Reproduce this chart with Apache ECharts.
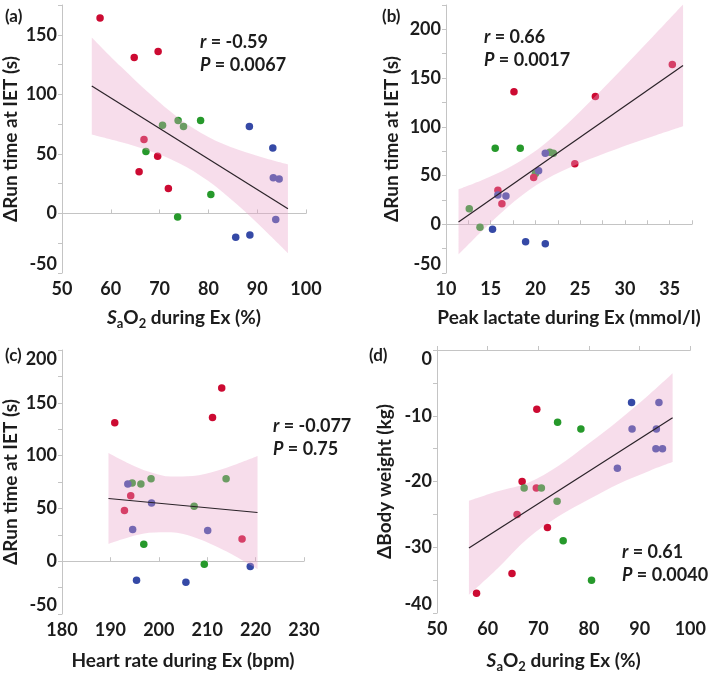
<!DOCTYPE html>
<html lang="en">
<head>
    <meta charset="UTF-8">
    <title>Run time vs SaO2, lactate, heart rate</title>
    <script src="https://cdn.jsdelivr.net/npm/echarts@6.0.0/dist/echarts.min.js"></script>
    <style>
        html, body { margin: 0; padding: 0; background: #fff; }
        #chart1 { width: 709px; height: 674px; }
    </style>
</head>
<body>
<div id="chart1"></div>
<script>
    // one entry per subject: 0 = red, 1 = green, 2 = blue
    var group = [0, 0, 0, 0, 1, 0, 0, 0, 1, 1, 1, 1, 1, 1, 2, 2, 2, 2, 2, 2, 2];
    var sao2 = [57.8, 64.8, 69.7, 66.8, 67.2, 69.6, 65.8, 71.8, 70.6, 73.8, 74.9, 78.4, 80.5, 73.7, 88.4, 93.2, 93.3, 94.5, 93.8, 85.6, 88.5];
    var runTime = [164, 131, 136, 62, 52, 48, 35, 21, 74, 78, 73, 78, 16, -3, 73, 55, 30, 29, -5, -20, -18];
    var lactate = [35.3, 26.7, 17.6, 24.4, 20.0, 19.8, 15.8, 16.25, 21.6, 15.5, 22.0, 18.3, 12.6, 13.8, 21.1, 20.35, 15.8, 16.7, 15.2, 21.1, 18.9];
    var heartRate = [213.0, 190.9, 211.1, 194.2, 207.3, 192.9, null, 217.2, 194.5, 198.4, 196.3, 213.9, 196.9, 209.4, 193.6, 198.5, 194.6, 210.1, 218.9, 205.6, 195.4];
    var bodyWeight = [-37, -34, -9, -20, -21, -21, -25, -27, -21, -11, -29, -12, -35, -23, -8, -15, -12, -15, -8, -18, -12];

    // fitted line ends and 95% band
    var fitA = {x: [56.1, 96.3], y: [107, 4]};
    var bandA = {x: [56.1, 62, 68, 74, 80, 86, 92, 96.3],
        upper: [147.8, 123.5, 100.4, 79.8, 64.2, 53.6, 46.0, 41.3],
        lower: [66.2, 59.9, 52.4, 42.2, 27.2, 7.0, -16.0, -33.3]};
    var fitB = {x: [11.4, 36.5], y: [2.4, 163]};
    var bandB = {x: [11.4, 14, 17, 19.5, 22, 25, 29, 33, 36.5],
        upper: [35.9, 45.2, 58.0, 72.0, 90.1, 115.8, 152.9, 191.4, 225.5],
        lower: [-31.1, -7.2, 18.4, 36.4, 50.3, 63.0, 77.1, 89.8, 100.5]};
    var fitC = {x: [189.6, 220.4], y: [59.4, 46.1]};
    var bandC = {x: [189.6, 194, 198, 202.6, 207, 212, 216, 220.4],
        upper: [102.4, 92.1, 84.7, 80.1, 80.6, 85.7, 91.8, 99.6],
        lower: [16.4, 22.9, 26.9, 27.5, 23.2, 13.7, 4.2, -7.4]};
    var fitD = {x: [56.3, 96.5], y: [-30.1, -10.3]};
    var bandD = {x: [56.3, 62, 68, 74, 80, 86, 92, 96.5],
        upper: [-22.95, -21.5, -20.2, -17.6, -14.2, -10.6, -6.7, -3.55],
        lower: [-37.25, -33.2, -28.6, -25.3, -22.7, -20.3, -18.35, -17.05]};

    var statText = [
        ['-0.59', '0.0067'],
        ['0.66', '0.0017'],
        ['-0.077', '0.75'],
        ['0.61', '0.0040']
    ];

    var groupColors = ['#cc0a32', '#26992b', '#3549a6'];
    var font = 'Lato, "Open Sans", sans-serif';
    var textColor = '#1c1c1c';
    var axisColor = '#c4c4c4';

    var saName = '{it|S}{sub|a}O{sub|2} during Ex (%)';
    var nameRich = {
        it: {fontStyle: 'italic', fontWeight: 'bold', fontSize: 19, fontFamily: font, color: textColor},
        sub: {fontWeight: 'bold', fontSize: 13, fontFamily: font, color: textColor, verticalAlign: 'bottom', lineHeight: 13}
    };

    function everyFormatter(step) {
        return function (v) {
            var k = v / step;
            return Math.abs(k - Math.round(k)) < 1e-6 ? String(v) : '';
        };
    }

    function xAx(gi, min, max, interval, step, name, gap) {
        return {
            type: 'value', gridIndex: gi, min: min, max: max, interval: interval,
            name: name, nameLocation: 'middle', nameGap: gap,
            nameTextStyle: {fontSize: 19, fontWeight: 'bold', fontFamily: font, color: textColor, lineHeight: 24, rich: nameRich},
            axisLine: {show: true, lineStyle: {color: axisColor, width: 1}},
            axisTick: {show: true, inside: true, length: 4, lineStyle: {color: axisColor}},
            splitLine: {show: false},
            axisLabel: {fontSize: 18, fontWeight: 'bold', fontFamily: font, color: textColor, margin: 7,
                formatter: everyFormatter(step), hideOverlap: false}
        };
    }

    function yAx(gi, min, max, interval, step, name, gap) {
        return {
            type: 'value', gridIndex: gi, min: min, max: max, interval: interval,
            name: name, nameLocation: 'middle', nameGap: gap,
            nameTextStyle: {fontSize: 19, fontWeight: 'bold', fontFamily: font, color: textColor},
            axisLine: {show: true, lineStyle: {color: axisColor, width: 1}},
            axisTick: {show: true, length: 4, lineStyle: {color: axisColor}},
            splitLine: {show: false},
            axisLabel: {fontSize: 18, fontWeight: 'bold', fontFamily: font, color: textColor, margin: 5,
                formatter: everyFormatter(step), hideOverlap: false,
                verticalAlignMaxLabel: 'top', verticalAlignMinLabel: 'bottom'}
        };
    }

    function points(xs, ys) {
        var out = [];
        for (var i = 0; i < xs.length; i++) {
            if (xs[i] == null || ys[i] == null) continue;
            out.push([xs[i], ys[i], group[i]]);
        }
        return out;
    }

    function scatterSeries(gi, xs, ys) {
        return {
            type: 'scatter', xAxisIndex: gi, yAxisIndex: gi, z: 2,
            symbolSize: 7.5,
            data: points(xs, ys),
            itemStyle: {color: function (p) { return groupColors[p.value[2]]; }, opacity: 1}
        };
    }

    // band = lower edge (hidden) + stacked height; y is put first so the stack runs along y
    function bandSeries(gi, band) {
        var low = [], diff = [];
        for (var i = 0; i < band.x.length; i++) {
            low.push([band.lower[i], band.x[i]]);
            diff.push([band.upper[i] - band.lower[i], band.x[i]]);
        }
        var base = {type: 'line', xAxisIndex: gi, yAxisIndex: gi, stack: 'band' + gi, stackStrategy: 'all',
            smooth: 0.35, encode: {x: 1, y: 0}, symbol: 'none', silent: true, z: 3};
        return [
            Object.assign({}, base, {data: low, lineStyle: {opacity: 0}}),
            Object.assign({}, base, {data: diff, lineStyle: {opacity: 0},
                areaStyle: {color: 'rgba(232,160,200,0.36)', opacity: 1}})
        ];
    }

    function fitSeries(gi, fit) {
        return {
            type: 'line', xAxisIndex: gi, yAxisIndex: gi, z: 4, symbol: 'none', silent: true,
            data: [[fit.x[0], fit.y[0]], [fit.x[1], fit.y[1]]],
            lineStyle: {color: '#2a2228', width: 1.2}
        };
    }

    function statGraphic(x, y, idx) {
        var rich = {i: {fontStyle: 'italic', fontWeight: 'bold', fontSize: 18, fontFamily: font, fill: textColor}};
        var st = {fontSize: 18, fontWeight: 'bold', fontFamily: font, fill: textColor, verticalAlign: 'middle', rich: rich};
        return [
            {type: 'text', x: x, y: y, style: Object.assign({text: '{i|r} = ' + statText[idx][0]}, st)},
            {type: 'text', x: x, y: y + 23, style: Object.assign({text: '{i|P} = ' + statText[idx][1]}, st)}
        ];
    }

    function panelLabel(x, y, t) {
        return {type: 'text', x: x, y: y, style: {text: t, fontSize: 17, fontWeight: 'bold', fontFamily: font,
            fill: textColor, verticalAlign: 'middle'}};
    }

    var series = [].concat(
        scatterSeries(0, sao2, runTime), bandSeries(0, bandA), fitSeries(0, fitA),
        scatterSeries(1, lactate, runTime), bandSeries(1, bandB), fitSeries(1, fitB),
        scatterSeries(2, heartRate, runTime), bandSeries(2, bandC), fitSeries(2, fitC),
        scatterSeries(3, sao2, bodyWeight), bandSeries(3, bandD), fitSeries(3, fitD)
    );

    var option = {
        animation: false,
        backgroundColor: '#fff',
        grid: [
            {left: 61, top: 5, width: 245, height: 268},
            {left: 446, top: 5, width: 246, height: 268},
            {left: 61, top: 350, width: 243, height: 268},
            {left: 437, top: 350, width: 254, height: 267}
        ],
        xAxis: [
            xAx(0, 50, 100, 10, 10, saName, 33),
            xAx(1, 10, 37.5, 2.5, 5, 'Peak lactate during Ex (mmol/l)', 33),
            xAx(2, 180, 230, 10, 10, 'Heart rate during Ex (bpm)', 35),
            xAx(3, 50, 100, 10, 10, saName, 36)
        ],
        yAxis: [
            yAx(0, -50, 175, 25, 50, '\u0394Run time at IET (s)', 42),
            yAx(1, -50, 225, 25, 50, '\u0394Run time at IET (s)', 45),
            yAx(2, -50, 200, 25, 50, '\u0394Run time at IET (s)', 42),
            yAx(3, -40, 0, 5, 10, '\u0394Body weight (kg)', 43)
        ],
        series: series,
        graphic: [].concat(
            statGraphic(200, 42, 0),
            statGraphic(484, 37, 1),
            statGraphic(273, 426, 2),
            statGraphic(622, 552, 3),
            [panelLabel(5, 17, '(a)'), panelLabel(382, 17, '(b)'), panelLabel(5, 356, '(c)'), panelLabel(369, 356, '(d)')]
        )
    };

    var ctx1 = echarts.init(document.getElementById('chart1'));
    ctx1.setOption(option);
</script>
</body>
</html>
